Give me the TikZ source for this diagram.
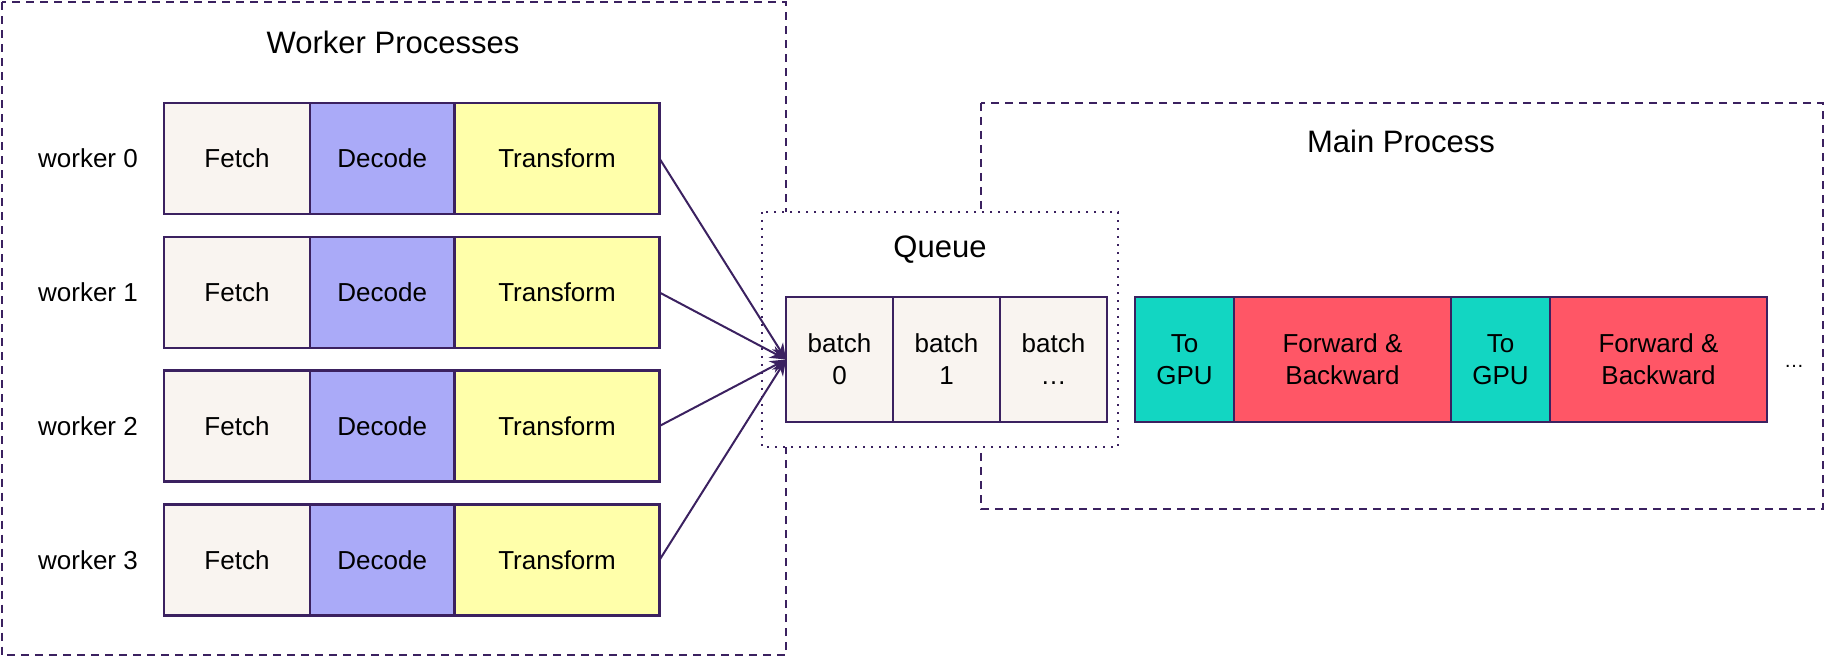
\documentclass[tikz,border=0pt]{standalone}
\usepackage{fontspec}
\setmainfont{Liberation Sans}
\usetikzlibrary{positioning}
\usetikzlibrary{arrows.meta}
\definecolor{edge}{HTML}{3B2160}
\definecolor{fetchc}{HTML}{F9F4F0}
\definecolor{decodec}{HTML}{AAAAF8}
\definecolor{transc}{HTML}{FFFFAA}
\definecolor{gpuc}{HTML}{12D6C2}
\definecolor{fwdc}{HTML}{FF5666}
\tikzset{
  cell/.style={draw=edge, line width=1.1pt, rectangle, inner sep=0pt, outer sep=0pt, align=center, font=\fontsize{13}{16}\selectfont},
  wcell/.style={cell, minimum height=55.5pt},
  fetch/.style={wcell, fill=fetchc, minimum width=73pt},
  decode/.style={wcell, fill=decodec, minimum width=72.25pt},
  transform/.style={wcell, fill=transc, minimum width=102.5pt},
  mcell/.style={cell, minimum height=62.5pt},
  batch/.style={mcell, fill=fetchc, minimum width=53.5pt},
  togpu/.style={mcell, fill=gpuc, minimum width=49.5pt},
  fwdbwd/.style={mcell, fill=fwdc, minimum width=108.5pt},
  wlabel/.style={font=\fontsize{13}{16}\selectfont},
  title/.style={font=\fontsize{15.5}{19}\selectfont},
  group/.style={draw=edge, line width=1pt, dash pattern=on 4pt off 3pt},
  queuebox/.style={draw=edge, line width=1pt, dash pattern=on 1pt off 3pt, fill=white},
  feed/.style={draw=edge, line width=1pt, -{Stealth[length=8pt,width=6.5pt]}}
}
\newcommand{\workerrow}[2]{
  \node[wlabel] (w#1) at (88,#2) {worker #1};
  \node[fetch, anchor=west] (f#1) at (164,#2) {Fetch};
  \node[decode, right=0pt of f#1] (d#1) {Decode};
  \node[transform, right=0pt of d#1] (t#1) {Transform};
}

\begin{document}
\begin{tikzpicture}[x=0.5pt, y=-0.5pt]
  \useasboundingbox (0,0) rectangle (1825,657);
  % process boxes
  \draw[group] (1.5,2.5) rectangle (786,655);
  \draw[group] (981,103) rectangle (1823,509);
  \draw[queuebox] (762,212) rectangle (1118,447);
  \node[title] (wtitle) at (393,42) {Worker Processes};
  \node[title] (qtitle) at (940,250) {Queue};
  \node[title] (mtitle) at (1401,141) {Main Process};
  % workers
  \workerrow{0}{158.5}
  \workerrow{1}{292.5}
  \workerrow{2}{426}
  \workerrow{3}{560}
  % queue
  \node[batch, anchor=west] (b0) at (786,359.5) {batch\\0};
  \node[batch, right=0pt of b0] (b1) {batch\\1};
  \node[batch, right=0pt of b1] (b2) {batch\\…};
  % main process
  \node[togpu, anchor=west] (g0) at (1135,359.5) {To\\GPU};
  \node[fwdbwd, right=0pt of g0] (m0) {Forward \&\\Backward};
  \node[togpu, right=0pt of m0] (g1) {To\\GPU};
  \node[fwdbwd, right=0pt of g1] (m1) {Forward \&\\Backward};
  \node[font=\fontsize{10}{12}\selectfont] (more) at (1794,366) {…};
  % feeding the queue
  \draw[feed] (t0.east) -- (b0.west);
  \draw[feed] (t1.east) -- (b0.west);
  \draw[feed] (t2.east) -- (b0.west);
  \draw[feed] (t3.east) -- (b0.west);
\end{tikzpicture}
\end{document}
